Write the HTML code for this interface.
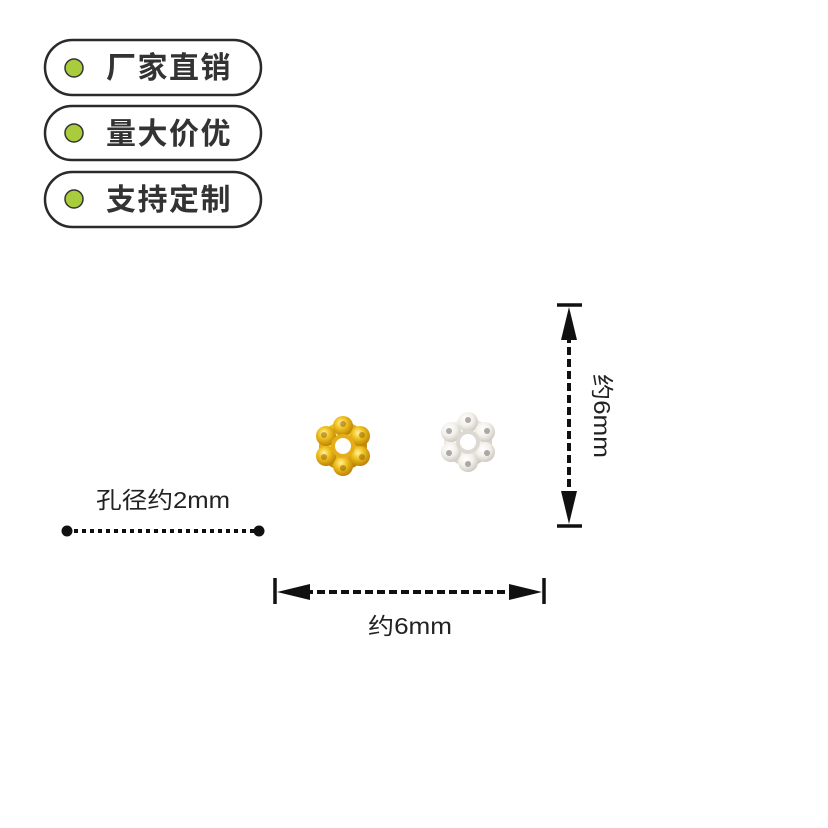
<!DOCTYPE html>
<html><head><meta charset="utf-8"><style>
html,body{margin:0;padding:0;background:#fff;}
svg{display:block;}
</style></head><body>
<svg width="828" height="828" viewBox="0 0 828 828" xmlns="http://www.w3.org/2000/svg">
<defs>
<radialGradient id="g" cx="40%" cy="35%" r="70%"><stop offset="0" stop-color="#fff2a0"/><stop offset="0.4" stop-color="#f1c21e"/><stop offset="1" stop-color="#b57c05"/></radialGradient>
<radialGradient id="s" cx="40%" cy="35%" r="70%"><stop offset="0" stop-color="#ffffff"/><stop offset="0.5" stop-color="#f2f0ea"/><stop offset="1" stop-color="#c9c6be"/></radialGradient>
</defs>
<g font-family="Liberation Sans, Noto Sans CJK SC, sans-serif">
<g stroke="#2a2a2a" stroke-width="2.5" fill="#fff">
<rect x="45" y="40" width="216" height="55" rx="27.5"/>
<rect x="45" y="106" width="216" height="54" rx="27"/>
<rect x="45" y="172" width="216" height="55" rx="27.5"/>
</g>
<g fill="#a9cc3c" stroke="#333" stroke-width="1.5">
<circle cx="74" cy="68" r="9"/><circle cx="74" cy="133" r="9"/><circle cx="74" cy="199" r="9"/>
</g>
<g font-size="30" font-weight="bold" fill="#333" font-family="Noto Sans CJK SC, sans-serif" letter-spacing="1.5">
<text x="106" y="78">厂家直销</text>
<text x="106" y="144">量大价优</text>
<text x="106" y="210">支持定制</text>
</g>
<!-- beads -->
<g transform="translate(343,446)">
<g fill="url(#g)">
<circle r="24"/>
<circle cx="0" cy="-20" r="10"/><circle cx="17" cy="-10" r="10"/><circle cx="17" cy="10" r="10"/><circle cx="0" cy="20" r="10"/><circle cx="-17" cy="10" r="10"/><circle cx="-17" cy="-10" r="10"/>
</g>
<g fill="#8a5a00" opacity="0.5">
<circle cx="0" cy="-22" r="3"/><circle cx="19" cy="-11" r="3"/><circle cx="19" cy="11" r="3"/><circle cx="0" cy="22" r="3"/><circle cx="-19" cy="11" r="3"/><circle cx="-19" cy="-11" r="3"/>
</g>
<circle r="12" fill="#e5ad18"/><circle r="8" fill="#fff"/>
</g>
<g transform="translate(468,442)">
<g fill="url(#s)">
<circle r="24"/>
<circle cx="0" cy="-20" r="10"/><circle cx="17" cy="-10" r="10"/><circle cx="17" cy="10" r="10"/><circle cx="0" cy="20" r="10"/><circle cx="-17" cy="10" r="10"/><circle cx="-17" cy="-10" r="10"/>
</g>
<g fill="#777" opacity="0.6">
<circle cx="0" cy="-22" r="3"/><circle cx="19" cy="-11" r="3"/><circle cx="19" cy="11" r="3"/><circle cx="0" cy="22" r="3"/><circle cx="-19" cy="11" r="3"/><circle cx="-19" cy="-11" r="3"/>
</g>
<circle r="12" fill="#dcd9d2"/><circle r="8" fill="#fff"/>
</g>
<!-- hole line -->
<circle cx="67" cy="531" r="5.5" fill="#111"/><circle cx="259" cy="531" r="5.5" fill="#111"/>
<line x1="74" y1="531" x2="254" y2="531" stroke="#111" stroke-width="4" stroke-dasharray="4 4"/>
<text x="96" y="508" font-size="23" fill="#222" textLength="134" lengthAdjust="spacingAndGlyphs">孔径约2mm</text>
<!-- horizontal -->
<g fill="#111" stroke="#111">
<line x1="275" y1="578" x2="275" y2="604" stroke-width="3.5"/>
<line x1="544" y1="578" x2="544" y2="604" stroke-width="3.5"/>
<line x1="305" y1="592" x2="514" y2="592" stroke-width="4" stroke-dasharray="8 4"/>
<polygon points="277,592 310,584 310,600" stroke="none"/>
<polygon points="542,592 509,584 509,600" stroke="none"/>
<line x1="557" y1="305" x2="582" y2="305" stroke-width="3.5"/>
<line x1="557" y1="526" x2="582" y2="526" stroke-width="3.5"/>
<line x1="569" y1="335" x2="569" y2="496" stroke-width="4" stroke-dasharray="8 4"/>
<polygon points="569,307 561,340 577,340" stroke="none"/>
<polygon points="569,524 561,491 577,491" stroke="none"/>
</g>
<text x="368" y="634" font-size="23" fill="#222" textLength="84" lengthAdjust="spacingAndGlyphs">约6mm</text>
<text transform="translate(594,374) rotate(90)" font-size="23" fill="#222" textLength="84" lengthAdjust="spacingAndGlyphs">约6mm</text>
</g>
</svg>
</body></html>
